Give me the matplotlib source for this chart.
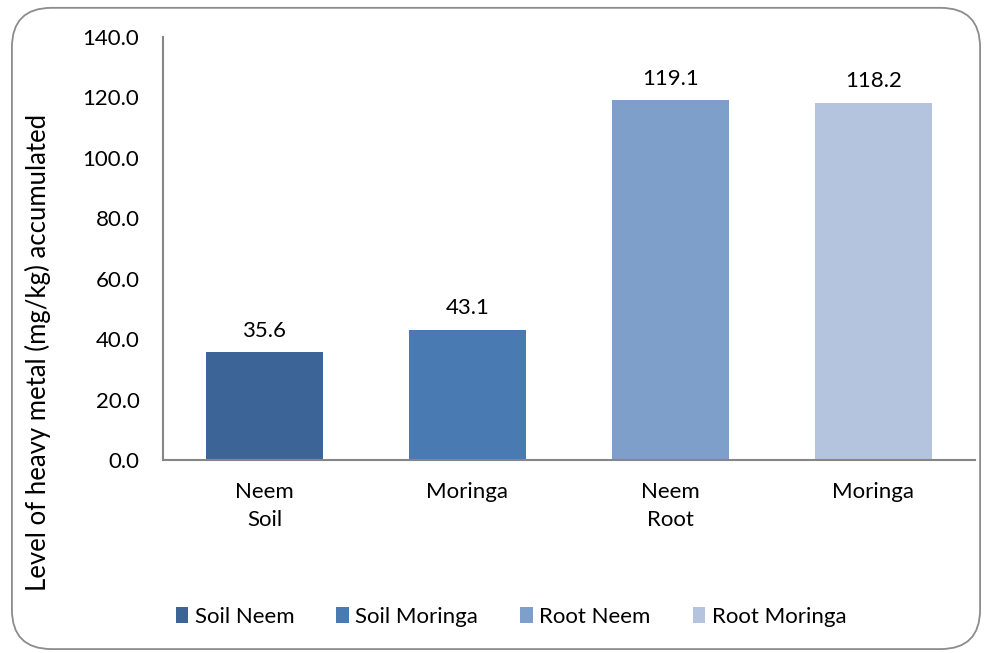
import matplotlib
matplotlib.use("Agg")
import matplotlib.pyplot as plt
from matplotlib.patches import FancyBboxPatch, Patch

plt.rcParams['font.family'] = ['Lato', 'DejaVu Sans']

categories = ["Neem\nSoil", "Moringa", "Neem\nRoot", "Moringa"]
series = ["Soil Neem", "Soil Moringa", "Root Neem", "Root Moringa"]
values = [35.6, 43.1, 119.1, 118.2]
colors = ["#3C6496", "#4A7AB2", "#7F9FCB", "#B4C4DF"]
yticks = [0, 20, 40, 60, 80, 100, 120, 140]

FS = 16

fig = plt.figure(figsize=(9.92, 6.53), dpi=100)

# rounded chart-area border, drawn behind the axes
frame = FancyBboxPatch((0.012, 0.006), 0.976, 0.982,
                       boxstyle="round,pad=0,rounding_size=0.04",
                       transform=fig.transFigure, facecolor="white",
                       edgecolor="#8C8C8C", linewidth=1.3, zorder=-5,
                       mutation_aspect=992/653)
fig.patches.append(frame)

ax = fig.add_axes([163/992, 1 - 460/653, (975 - 163)/992, (460 - 37)/653])
ax.set_facecolor("none")
x = range(len(values))
ax.bar(x, values, width=0.576, color=colors, zorder=2)
for xi, v in zip(x, values):
    ax.text(xi, v + 3.8, f"{v:.1f}", ha="center", va="bottom", fontsize=FS)

ax.set_xlim(-0.5, len(values) - 0.5)
ax.set_ylim(0, 140)
ax.set_yticks(yticks)
ax.set_yticklabels([f"{t:.1f}" for t in yticks], fontsize=FS)
ax.set_xticks(list(x))
ax.set_xticklabels(categories, fontsize=FS, linespacing=1.5)
ax.tick_params(axis="y", length=0, pad=17)
ax.tick_params(axis="x", length=0, pad=16)
for s in ["top", "right"]:
    ax.spines[s].set_visible(False)
for s in ["left", "bottom"]:
    ax.spines[s].set_color("#868686")
    ax.spines[s].set_linewidth(1.5)

fig.text(38/992, 1 - 352/653, "Level of heavy metal (mg/kg) accumulated",
         rotation=90, ha="center", va="center", fontsize=18.5)

handles = [Patch(facecolor=c, edgecolor="none") for c in colors]
fig.legend(handles, series, loc="center", bbox_to_anchor=(511/992, 1 - 617/653),
           ncol=4, frameon=False, fontsize=FS, handlelength=0.55, handleheight=0.75,
           handletextpad=0.3, columnspacing=1.9)

fig.savefig("out.png", dpi=100)
